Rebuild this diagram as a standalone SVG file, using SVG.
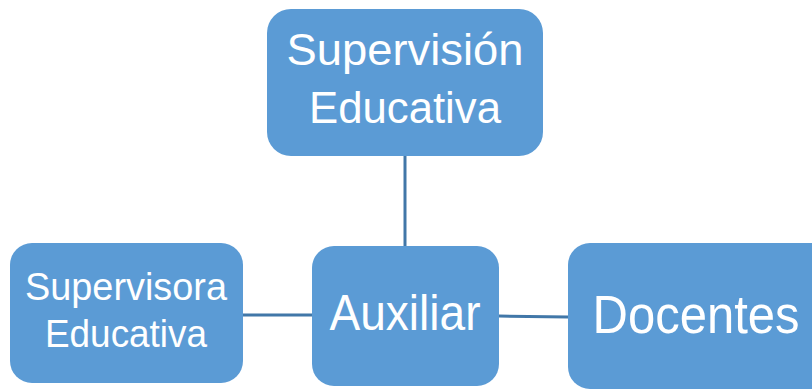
<svg xmlns="http://www.w3.org/2000/svg" width="812" height="390" viewBox="0 0 812 390">
<style>
.box{fill:#5b9bd5;}
.t{fill:#ffffff;font-family:"Liberation Sans",Arial,sans-serif;text-anchor:middle;}
.c{stroke:#4177a8;stroke-width:3;fill:none;}
</style>
<rect width="812" height="390" fill="#ffffff"/>
<g id="connectors">
<line class="c" x1="405" y1="156" x2="405" y2="246"/>
<line class="c" x1="243" y1="315" x2="312" y2="315"/>
<line class="c" x1="499" y1="316" x2="568" y2="317"/>
</g>
<g id="supervision-educativa">
<rect class="box" x="267" y="9" width="276" height="147" rx="24"/>
<text class="t" x="405" y="65" font-size="45" textLength="237" lengthAdjust="spacingAndGlyphs">Supervisión</text>
<text class="t" x="405" y="123" font-size="45" textLength="192" lengthAdjust="spacingAndGlyphs">Educativa</text>
</g>
<g id="supervisora-educativa">
<rect class="box" x="10" y="243" width="233" height="140" rx="22"/>
<text class="t" x="126" y="300" font-size="38" textLength="202" lengthAdjust="spacingAndGlyphs">Supervisora</text>
<text class="t" x="126" y="347" font-size="38" textLength="162" lengthAdjust="spacingAndGlyphs">Educativa</text>
</g>
<g id="auxiliar">
<rect class="box" x="312" y="246" width="187" height="140" rx="22"/>
<text class="t" x="405" y="330" font-size="50" textLength="151" lengthAdjust="spacingAndGlyphs">Auxiliar</text>
</g>
<g id="docentes">
<rect class="box" x="568" y="243" width="270" height="146" rx="22"/>
<text class="t" x="696" y="333" font-size="53" textLength="207" lengthAdjust="spacingAndGlyphs">Docentes</text>
</g>
</svg>
